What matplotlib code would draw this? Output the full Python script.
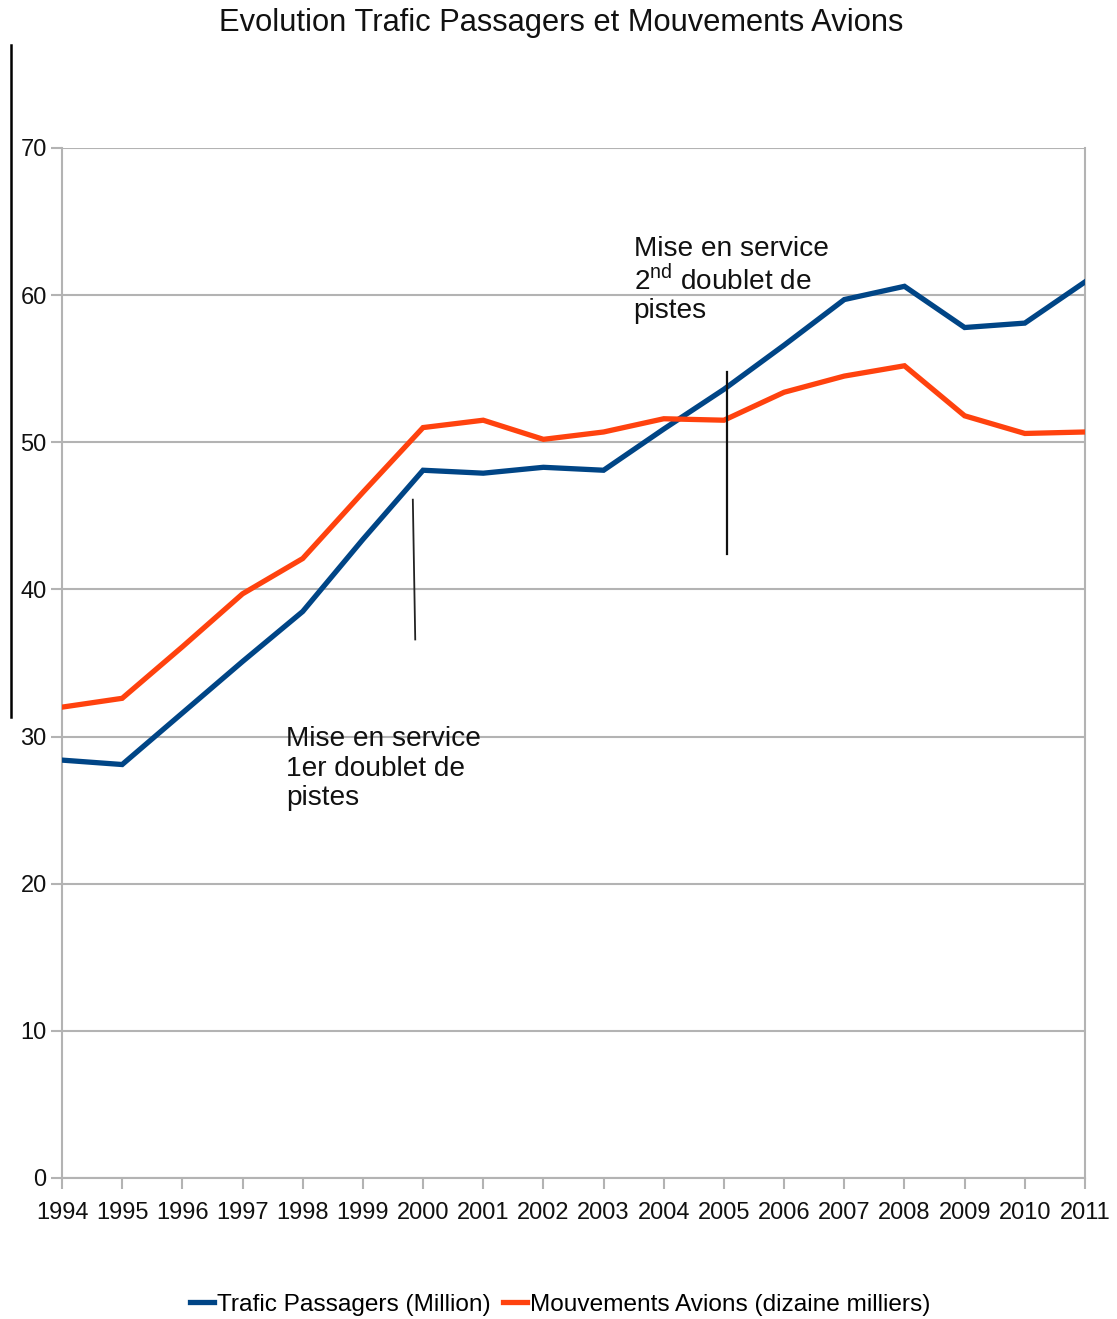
import matplotlib
matplotlib.use("Agg")
import matplotlib.pyplot as plt
from matplotlib.lines import Line2D

plt.rcParams['font.family'] = ['Liberation Sans', 'DejaVu Sans']
plt.rcParams['mathtext.fontset'] = 'custom'
plt.rcParams['mathtext.rm'] = 'Liberation Sans'

years = list(range(1994, 2012))
passagers = [28.4, 28.1, 31.6, 35.1, 38.5, 43.4, 48.1, 47.9, 48.3, 48.1,
             50.9, 53.6, 56.6, 59.7, 60.6, 57.8, 58.1, 60.9]
mouvements = [32.0, 32.6, 36.1, 39.7, 42.1, 46.6, 51.0, 51.5, 50.2, 50.7,
              51.6, 51.5, 53.4, 54.5, 55.2, 51.8, 50.6, 50.7]
labels = ["Trafic Passagers (Million)", "Mouvements Avions (dizaine milliers)"]
title = "Evolution Trafic Passagers et Mouvements Avions"
yticks = [0, 10, 20, 30, 40, 50, 60, 70]

fig = plt.figure(figsize=(11.17, 13.19), dpi=100)
ax = fig.add_axes([62/1117, 1 - 1178/1319, (1085 - 62)/1117, (1178 - 148)/1319])

blue = "#004586"
orange = "#ff420e"
ax.plot(years, passagers, color=blue, lw=3.8, solid_joinstyle='miter', label=labels[0], zorder=3)
ax.plot(years, mouvements, color=orange, lw=3.8, solid_joinstyle='miter', label=labels[1], zorder=3)

ax.set_xlim(1994, 2011)
ax.set_ylim(0, 70)
ax.set_xticks(years)
ax.set_xticklabels([str(y) for y in years], fontsize=17, color="#111111")
ax.set_yticks(yticks)
ax.set_yticklabels([str(v) for v in yticks], fontsize=17, color="#111111")
ax.yaxis.grid(True, color="#b3b3b3", lw=1.5)
ax.set_axisbelow(True)
for s in ax.spines.values():
    s.set_color("#b3b3b3")
    s.set_linewidth(1.5)
ax.spines['top'].set_visible(False)
ax.tick_params(axis='both', color="#b3b3b3", width=1.5, length=8, direction='out')
ax.tick_params(axis='x', pad=9)
ax.tick_params(axis='y', pad=3)

fig.text(561/1117, 1 - 23/1319, title, ha='center', va='center', fontsize=22.2, color="#111111")

# annotations
ax.text(1997.73, 30.7, "Mise en service\n1er doublet de\npistes", fontsize=20.2,
        va='top', ha='left', color="#111111", linespacing=1.18)
ax.text(2003.5, 64.0, "Mise en service\n2$^{\\rm nd}$ doublet de\npistes", fontsize=20.2,
        va='top', ha='left', color="#111111", linespacing=1.1)
ax.plot([1999.83, 1999.87], [46.1, 36.6], color="#222222", lw=1.3, zorder=4)
ax.plot([2005.05, 2005.05], [54.8, 42.4], color="#111111", lw=1.6, zorder=4)
fig.add_artist(Line2D([11/1117, 11/1117], [1 - 45/1319, 1 - 717/1319], color="black", lw=1.8))

handles = [Line2D([0], [0], color=blue, lw=3.8), Line2D([0], [0], color=orange, lw=3.8)]
fig.legend(handles, labels, loc='center', bbox_to_anchor=(560/1117, 1 - 1305/1319), ncol=2,
           frameon=False, fontsize=17.6, handlelength=1.0, handletextpad=0.1, columnspacing=0.5)

fig.savefig("out.png", dpi=100, facecolor="white")
